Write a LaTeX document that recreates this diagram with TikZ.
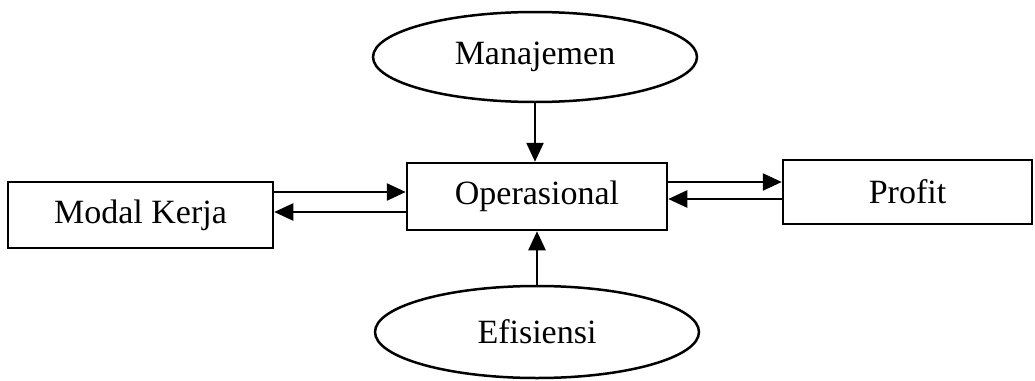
\documentclass[tikz,border=0pt]{standalone}
\usepackage{fontspec}
\setmainfont{Liberation Serif}
\usetikzlibrary{shapes.geometric,arrows.meta}
\begin{document}
\begin{tikzpicture}[x=1pt,y=1pt,
  every node/.style={font=\fontsize{34}{40}\selectfont, inner sep=0pt},
  boxnode/.style={draw, line width=2.5pt, rectangle},
  ovalnode/.style={draw, line width=2.5pt, ellipse},
  conn/.style={line width=2.5pt, -{Triangle[length=19pt,width=17pt]}}]
\useasboundingbox (0,0) rectangle (1035,-380);
\node[ovalnode, minimum width=324pt, minimum height=90pt] (man) at (535,-57) {Manajemen};
\node[ovalnode, minimum width=324pt, minimum height=92pt] (eff) at (537,-332) {Efisiensi};
\node[boxnode, minimum width=260pt, minimum height=67pt] (op) at (537,-196.5) {Operasional};
\node[boxnode, minimum width=265pt, minimum height=66pt] (mk) at (140.5,-215) {Modal Kerja};
\node[boxnode, minimum width=249pt, minimum height=64pt] (pr) at (907.5,-192) {Profit};
\draw[conn] (man.south) -- (man.south |- op.north);
\draw[conn] (eff.north) -- (eff.north |- op.south);
\draw[conn] ([yshift=23pt]mk.east) -- ([yshift=23pt]mk.east -| op.west);
\draw[conn] ([yshift=3pt]mk.east -| op.west) -- ([yshift=3pt]mk.east);
\draw[conn] ([yshift=14.5pt]op.east) -- ([yshift=14.5pt]op.east -| pr.west);
\draw[conn] ([yshift=-2.5pt]op.east -| pr.west) -- ([yshift=-2.5pt]op.east);
\end{tikzpicture}
\end{document}
